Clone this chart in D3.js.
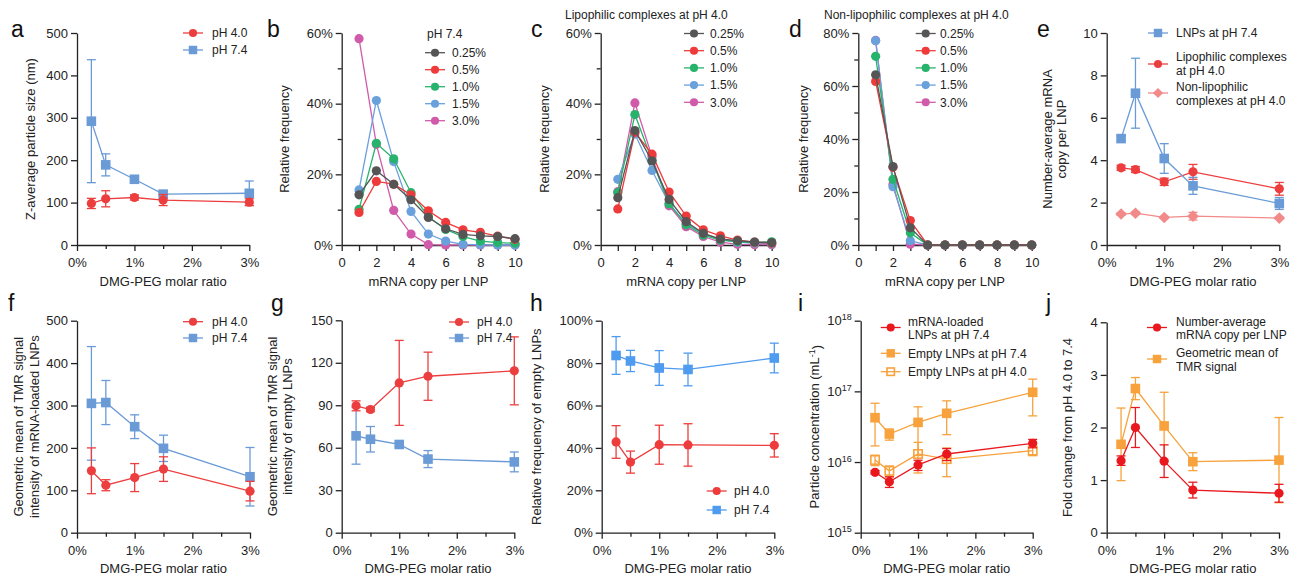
<!DOCTYPE html>
<html>
<head>
<meta charset="utf-8">
<script src="https://cdn.jsdelivr.net/npm/d3@7"></script>
<style>
body { margin: 0; background: #fff; }
svg { display: block; font-family: "Liberation Sans", Arial, Helvetica, sans-serif; }
.axis path, .axis line { stroke: #222; stroke-width: 1.3px; }
.axis text { font-size: 13px; fill: #222; font-family: "Liberation Sans", Arial, sans-serif; }
.ttl { font-size: 13px; fill: #222; }
.leg { font-size: 12px; fill: #222; }
.lab { font-size: 23px; fill: #111; }
</style>
</head>
<body>
<svg id="fig" width="1295" height="577"></svg>
<script>
/* DMG-PEG figure, panels a-j */
const pegRatio = [0.25, 0.5, 1, 1.5, 3];
const mrnaCopy = [1, 2, 3, 4, 5, 6, 7, 8, 9, 10];
const pegLevels = ['0.25%', '0.5%', '1.0%', '1.5%', '3.0%'];

// a - z-average size (nm)
const sizePH40 = [98, 109, 112, 106, 101];
const sizePH40Sd = [12, 19, 6, 13, 8];
const sizePH74 = [292, 189, 155, 120, 122];
const sizePH74Sd = [145, 26, 7, 4, 29];

// b-d - relative frequency (%) per mRNA copy, one row per PEG level
const distPH74 = [
    [14.2, 21.0, 17.2, 12.8, 7.8, 4.6, 3.0, 2.6, 2.4, 1.8],
    [9.2, 18.0, 17.2, 14.2, 9.7, 6.4, 4.3, 3.6, 2.5, 1.6],
    [10.1, 28.8, 24.4, 14.8, 8.0, 4.4, 2.4, 1.1, 0.7, 0.5],
    [15.6, 40.9, 23.6, 9.5, 3.1, 1.1, 0.2, 0.1, 0, 0],
    [58.4, 28.5, 9.8, 3.1, 0.1, 0, 0, 0, 0, 0],
];
const distLipo = [
    [13.4, 32.4, 23.8, 12.9, 6.6, 3.3, 1.7, 1.2, 0.85, 0.7],
    [10.2, 31.9, 25.7, 15.0, 8.2, 4.3, 2.6, 1.4, 0.8, 0.5],
    [14.8, 36.9, 24.0, 11.6, 5.7, 2.8, 1.4, 0.9, 0.7, 0.9],
    [18.6, 31.4, 21.1, 11.8, 6.0, 3.3, 1.6, 0.8, 0.5, 0.3],
    [15.1, 40.2, 25.0, 11.1, 5.2, 2.4, 0.8, 0.2, 0.1, 0.1],
];
const distNonLipo = [
    [64.2, 29.6, 6.5, 0, 0, 0, 0, 0, 0, 0],
    [61.7, 29.3, 9.2, 0, 0, 0, 0, 0, 0, 0],
    [71.2, 24.8, 4.6, 0, 0, 0, 0, 0, 0, 0],
    [77.1, 22.0, 1.6, 0, 0, 0, 0, 0, 0, 0],
    [77.2, 22.9, 0.3, 0, 0, 0, 0, 0, 0, 0],
];

// e - number-average mRNA copy per LNP
const copyLNP74 = [5.02, 7.16, 4.08, 2.79, 1.96];
const copyLNP74Sd = [0.12, 1.65, 0.7, 0.4, 0.28];
const copyLipo40 = [3.64, 3.56, 2.98, 3.45, 2.65];
const copyLipo40Sd = [0.12, 0.14, 0.17, 0.35, 0.3];
const copyNonLipo40 = [1.46, 1.5, 1.3, 1.36, 1.27];
const copyNonLipo40Sd = [0.06, 0.06, 0.05, 0.18, 0.05];

// f - TMR of mRNA-loaded LNPs
const tmrLoaded40 = [146, 112, 130, 150, 98];
const tmrLoaded40Sd = [54, 13, 33, 29, 23];
const tmrLoaded74 = [305, 307, 250, 199, 132];
const tmrLoaded74Sd = [134, 52, 28, 31, 69];

// g - TMR of empty LNPs
const tmrEmpty40 = [89.6, 87, 105.8, 110.5, 114.3];
const tmrEmpty40Sd = [3.5, 1.5, 30, 17, 24];
const tmrEmpty74 = [68.4, 66, 62.3, 52, 50];
const tmrEmpty74Sd = [20, 9, 1.5, 6, 7];

// h - relative frequency of empty LNPs (%)
const emptyFreq40 = [42.8, 33.3, 41.5, 41.4, 41.2];
const emptyFreq40Sd = [7.7, 5.2, 9.2, 10, 5.5];
const emptyFreq74 = [83.6, 81, 77.7, 77, 82.4];
const emptyFreq74Sd = [8.9, 5, 8.2, 7.7, 7];

// i - particle concentration (mL^-1)
const concLoaded74 = [7.15e15, 5.27e15, 9.1e15, 1.30e16, 1.84e16];
const concLoaded74Sd = [0.4e15, 0.9e15, 1.5e15, 0.25e16, 0.25e16];
const concEmpty74 = [4.24e16, 2.49e16, 3.64e16, 4.89e16, 9.7e16];
const concEmpty74Sd = [2.55e16, 0.45e16, 2.4e16, 2.45e16, 5.2e16];
const concEmpty40 = [1.07e16, 7.5e15, 1.30e16, 1.10e16, 1.45e16];
const concEmpty40Sd = [0.18e16, 0.13e16, 0.6e16, 0.48e16, 0.22e16];

// j - fold change pH 4.0 -> 7.4
const foldCopy = [1.37, 2.0, 1.36, 0.81, 0.75];
const foldCopySd = [0.09, 0.38, 0.31, 0.15, 0.17];
const foldTmr = [1.68, 2.74, 2.03, 1.35, 1.38];
const foldTmrSd = [0.69, 0.21, 0.64, 0.17, 0.81];

const RED = '#EC3E3E', BLUE = '#6A9BD6', PINK_D = '#F28A8A';
const distColors = ['#555555', '#EE3A3A', '#27B36B', '#6AA0DC', '#D05BAA'];
const H_RED = '#EE3B3B', H_BLUE = '#4F9BEF';
const I_RED = '#E8181E', ORANGE = '#F7A23C';

const svg = d3.select('#fig');

function addMarker(sel, shape, color, k = 1) {
    if (shape === 'circle') sel.append('circle').attr('r', 4.6 * k).attr('fill', color);
    else if (shape === 'square') sel.append('rect').attr('x', -4.8 * k).attr('y', -4.8 * k)
        .attr('width', 9.6 * k).attr('height', 9.6 * k).attr('fill', color);
    else if (shape === 'open') sel.append('rect').attr('x', -4.2 * k).attr('y', -4.2 * k)
        .attr('width', 8.4 * k).attr('height', 8.4 * k).attr('fill', 'none')
        .attr('stroke', color).attr('stroke-width', 1.6);
    else if (shape === 'diamond') sel.append('path')
        .attr('d', `M0,${-5.8 * k}L${5.8 * k},0L0,${5.8 * k}L${-5.8 * k},0Z`).attr('fill', color);
}

function makePanel(o) {
    const g = svg.append('g');
    const x = d3.scaleLinear().domain(o.xDomain).range([o.x0, o.x1]);
    const y = (o.log ? d3.scaleLog() : d3.scaleLinear()).domain(o.yDomain).range([o.yBot, o.yTop]);
    g.append('g').attr('class', 'axis').attr('transform', `translate(0,${o.yBot})`)
        .call(d3.axisBottom(x).tickValues(o.xTicks).tickSize(6).tickSizeOuter(0).tickPadding(7).tickFormat(o.xFormat));
    if (o.xMinor) g.append('g').attr('class', 'axis').attr('transform', `translate(0,${o.yBot})`)
        .call(d3.axisBottom(x).tickValues(o.xMinor).tickSize(4).tickSizeOuter(0).tickFormat(''))
        .select('.domain').remove();
    const ya = g.append('g').attr('class', 'axis').attr('transform', `translate(${o.x0},0)`)
        .call(d3.axisLeft(y).tickValues(o.yTicks).tickSize(6).tickSizeOuter(0).tickPadding(3).tickFormat(o.yFormat || (d => d)));
    if (o.yMinor) g.append('g').attr('class', 'axis').attr('transform', `translate(${o.x0},0)`)
        .call(d3.axisLeft(y).tickValues(o.yMinor).tickSize(4).tickSizeOuter(0).tickFormat(''))
        .select('.domain').remove();
    if (o.log) {
        ya.selectAll('.tick text').text(null).each(function (d) {
            const t = d3.select(this);
            t.append('tspan').text('10');
            t.append('tspan').attr('dy', '-0.55em').attr('font-size', '9px').text(Math.round(Math.log10(d)));
        });
    }
    // axis titles
    g.append('text').attr('class', 'ttl').attr('text-anchor', 'middle')
        .attr('x', (o.x0 + o.x1) / 2).attr('y', o.yBot + 40.5).text(o.xTitle);
    const cy = (o.yTop + o.yBot) / 2;
    o.yTitle.forEach((line, k) => {
        const t = g.append('text').attr('class', 'ttl').attr('text-anchor', 'middle')
            .attr('transform', `translate(${o.x0 + o.yTitleDx[k]},${cy}) rotate(-90)`).attr('dy', '0.35em');
        if (Array.isArray(line)) {
            t.append('tspan').text(line[0]);
            t.append('tspan').attr('dy', '-0.45em').attr('font-size', '9px').text(line[1]);
            t.append('tspan').attr('dy', '0.45em').text(line[2]);
        } else t.text(line);
    });
    g.append('text').attr('class', 'lab').attr('x', o.lab[1]).attr('y', o.lab[2]).text(o.lab[0]);
    if (o.head) g.append('text').attr('class', 'leg').attr('x', o.head[1]).attr('y', o.head[2] + 4.3).text(o.head[0]);
    return { g, x, y };
}

function drawSeries(p, xs, ys, sd, color, shape, lw = 1.3) {
    const s = p.g.append('g');
    if (sd) {
        xs.forEach((xv, i) => {
            const cx = p.x(xv), lo = p.y(ys[i] - sd[i]), hi = p.y(ys[i] + sd[i]);
            s.append('line').attr('x1', cx).attr('x2', cx).attr('y1', lo).attr('y2', hi)
                .attr('stroke', color).attr('stroke-width', 1.3);
            [lo, hi].forEach(v => s.append('line').attr('x1', cx - 4.5).attr('x2', cx + 4.5)
                .attr('y1', v).attr('y2', v).attr('stroke', color).attr('stroke-width', 1.3));
        });
    }
    s.append('path').datum(ys)
        .attr('d', d3.line().x((d, i) => p.x(xs[i])).y(d => p.y(d)))
        .attr('fill', 'none').attr('stroke', color).attr('stroke-width', lw);
    s.selectAll('g.pt').data(ys).join('g').attr('class', 'pt')
        .attr('transform', (d, i) => `translate(${p.x(xs[i])},${p.y(d)})`)
        .each(function () { addMarker(d3.select(this), shape, color); });
}

function legend(p, items) {
    items.forEach(it => {
        const gg = p.g.append('g');
        gg.append('line').attr('x1', it.mx - 10).attr('x2', it.mx + 10).attr('y1', it.my).attr('y2', it.my)
            .attr('stroke', it.color).attr('stroke-width', 1.3);
        addMarker(gg.append('g').attr('transform', `translate(${it.mx},${it.my})`), it.shape, it.color, 0.88);
        it.text.forEach((t, k) => gg.append('text').attr('class', 'leg')
            .attr('x', it.tx).attr('y', it.ty[k] + 4.3).text(t));
    });
}

const pct = d => d + '%';
const pegAxis = { xDomain: [0, 3], xTicks: [0, 1, 2, 3], xMinor: [0.5, 1.5, 2.5], xFormat: pct, xTitle: 'DMG-PEG molar ratio' };
const copyAxis = { xDomain: [0, 10], xTicks: d3.range(0, 11), xFormat: d => (d % 2 === 0 ? d : ''), xTitle: 'mRNA copy per LNP' };

// ---- a
const pa = makePanel({ ...pegAxis, x0: 77, x1: 249.3, yTop: 33, yBot: 245, yDomain: [0, 500], yTicks: d3.range(0, 501, 100),
    yTitle: ['Z-average particle size (nm)'], yTitleDx: [-47], lab: ['a', 11, 37] });
drawSeries(pa, pegRatio, sizePH74, sizePH74Sd, BLUE, 'square');
drawSeries(pa, pegRatio, sizePH40, sizePH40Sd, RED, 'circle');
legend(pa, [
    { mx: 193, my: 33, tx: 212, ty: [33], color: RED, shape: 'circle', text: ['pH 4.0'] },
    { mx: 193, my: 50, tx: 212, ty: [50], color: BLUE, shape: 'square', text: ['pH 7.4'] },
]);

// ---- b, c, d
function distPanel(data, o, leg) {
    const p = makePanel({ ...copyAxis, ...o });
    for (let k = data.length - 1; k >= 0; k--) drawSeries(p, mrnaCopy, data[k], null, distColors[k], 'circle');
    legend(p, pegLevels.map((t, k) => ({ mx: leg.mx, my: leg.y0 + k * leg.dy, tx: leg.tx, ty: [leg.y0 + k * leg.dy],
        color: distColors[k], shape: 'circle', text: [t] })));
}
distPanel(distPH74, { x0: 341.7, x1: 515, yTop: 33, yBot: 245, yDomain: [0, 60], yTicks: [0, 20, 40, 60], yMinor: [10, 30, 50],
    yFormat: pct, yTitle: ['Relative frequency'], yTitleDx: [-57], lab: ['b', 267, 37], head: ['pH 7.4', 427, 34] },
    { mx: 435, tx: 452, y0: 52.7, dy: 17 });
distPanel(distLipo, { x0: 600.7, x1: 771.7, yTop: 33, yBot: 245, yDomain: [0, 60], yTicks: [0, 20, 40, 60], yMinor: [10, 30, 50],
    yFormat: pct, yTitle: ['Relative frequency'], yTitleDx: [-56], lab: ['c', 531, 37], head: ['Lipophilic complexes at pH 4.0', 565, 15] },
    { mx: 694, tx: 710, y0: 33.5, dy: 17.2 });
distPanel(distNonLipo, { x0: 858.3, x1: 1031.7, yTop: 33, yBot: 245, yDomain: [0, 80], yTicks: [0, 20, 40, 60, 80], yMinor: [10, 30, 50, 70],
    yFormat: pct, yTitle: ['Relative frequency'], yTitleDx: [-55], lab: ['d', 789, 37], head: ['Non-lipophilic complexes at pH 4.0', 824, 15] },
    { mx: 925.7, tx: 940, y0: 33.5, dy: 17.2 });

// ---- e
const pe = makePanel({ ...pegAxis, x0: 1106.7, x1: 1279.3, yTop: 33, yBot: 245, yDomain: [0, 10], yTicks: [0, 2, 4, 6, 8, 10],
    yTitle: ['Number-average mRNA', 'copy per LNP'], yTitleDx: [-59, -45], lab: ['e', 1037, 37] });
drawSeries(pe, pegRatio, copyNonLipo40, copyNonLipo40Sd, PINK_D, 'diamond');
drawSeries(pe, pegRatio, copyLipo40, copyLipo40Sd, RED, 'circle');
drawSeries(pe, pegRatio, copyLNP74, copyLNP74Sd, BLUE, 'square');
legend(pe, [
    { mx: 1158, my: 33, tx: 1176, ty: [33], color: BLUE, shape: 'square', text: ['LNPs at pH 7.4'] },
    { mx: 1158, my: 64, tx: 1176, ty: [57, 71], color: RED, shape: 'circle', text: ['Lipophilic complexes', 'at pH 4.0'] },
    { mx: 1158, my: 93, tx: 1176, ty: [87, 100.5], color: PINK_D, shape: 'diamond', text: ['Non-lipophilic', 'complexes at pH 4.0'] },
]);

// ---- f
const pf = makePanel({ ...pegAxis, x0: 77, x1: 250, yTop: 320.7, yBot: 532.7, yDomain: [0, 500], yTicks: d3.range(0, 501, 100),
    yTitle: ['Geometric mean of TMR signal', 'intensity of mRNA-loaded LNPs'], yTitleDx: [-59, -43], lab: ['f', 8, 311] });
drawSeries(pf, pegRatio, tmrLoaded74, tmrLoaded74Sd, BLUE, 'square');
drawSeries(pf, pegRatio, tmrLoaded40, tmrLoaded40Sd, RED, 'circle');
legend(pf, [
    { mx: 193, my: 321.7, tx: 212, ty: [321.7], color: RED, shape: 'circle', text: ['pH 4.0'] },
    { mx: 193, my: 338, tx: 212, ty: [338], color: BLUE, shape: 'square', text: ['pH 7.4'] },
]);

// ---- g
const pg = makePanel({ ...pegAxis, x0: 341.7, x1: 514.3, yTop: 320.3, yBot: 532.7, yDomain: [0, 150], yTicks: d3.range(0, 151, 30),
    yTitle: ['Geometric mean of TMR signal', 'intensity of empty LNPs'], yTitleDx: [-69, -54], lab: ['g', 271, 311] });
drawSeries(pg, pegRatio, tmrEmpty74, tmrEmpty74Sd, BLUE, 'square');
drawSeries(pg, pegRatio, tmrEmpty40, tmrEmpty40Sd, RED, 'circle');
legend(pg, [
    { mx: 459, my: 322, tx: 477, ty: [322], color: RED, shape: 'circle', text: ['pH 4.0'] },
    { mx: 459, my: 338, tx: 477, ty: [338], color: BLUE, shape: 'square', text: ['pH 7.4'] },
]);

// ---- h
const ph = makePanel({ ...pegAxis, x0: 601.7, x1: 774.3, yTop: 320.7, yBot: 532.7, yDomain: [0, 100], yTicks: d3.range(0, 101, 20),
    yFormat: pct, yTitle: ['Relative frequency of empty LNPs'], yTitleDx: [-65], lab: ['h', 530, 311] });
drawSeries(ph, pegRatio, emptyFreq74, emptyFreq74Sd, H_BLUE, 'square');
drawSeries(ph, pegRatio, emptyFreq40, emptyFreq40Sd, H_RED, 'circle');
legend(ph, [
    { mx: 716.7, my: 491, tx: 734, ty: [491], color: H_RED, shape: 'circle', text: ['pH 4.0'] },
    { mx: 716.7, my: 510, tx: 734, ty: [510], color: H_BLUE, shape: 'square', text: ['pH 7.4'] },
]);

// ---- i
const pi = makePanel({ ...pegAxis, x0: 860.7, x1: 1032.7, yTop: 320.7, yBot: 532.7, log: true, yDomain: [1e15, 1e18],
    yTicks: [1e15, 1e16, 1e17, 1e18], yTitle: [['Particle concentration (mL', '-1', ')']], yTitleDx: [-46], lab: ['i', 798, 311] });
drawSeries(pi, pegRatio, concEmpty40, concEmpty40Sd, ORANGE, 'open');
drawSeries(pi, pegRatio, concEmpty74, concEmpty74Sd, ORANGE, 'square');
drawSeries(pi, pegRatio, concLoaded74, concLoaded74Sd, I_RED, 'circle');
legend(pi, [
    { mx: 890.7, my: 327.5, tx: 908, ty: [321.7, 335], color: I_RED, shape: 'circle', text: ['mRNA-loaded', 'LNPs at pH 7.4'] },
    { mx: 890.7, my: 353.3, tx: 908, ty: [353.3], color: ORANGE, shape: 'square', text: ['Empty LNPs at pH 7.4'] },
    { mx: 890.7, my: 371.7, tx: 908, ty: [371.7], color: ORANGE, shape: 'open', text: ['Empty LNPs at pH 4.0'] },
]);

// ---- j
const pj = makePanel({ ...pegAxis, x0: 1106.7, x1: 1279, yTop: 322.3, yBot: 532.7, yDomain: [0, 4], yTicks: [0, 1, 2, 3, 4],
    yTitle: ['Fold change from pH 4.0 to 7.4'], yTitleDx: [-39], lab: ['j', 1046, 311] });
drawSeries(pj, pegRatio, foldTmr, foldTmrSd, ORANGE, 'square');
drawSeries(pj, pegRatio, foldCopy, foldCopySd, I_RED, 'circle');
legend(pj, [
    { mx: 1157, my: 327.5, tx: 1176, ty: [321.7, 334.3], color: I_RED, shape: 'circle', text: ['Number-average', 'mRNA copy per LNP'] },
    { mx: 1157, my: 359, tx: 1176, ty: [353, 366.7], color: ORANGE, shape: 'square', text: ['Geometric mean of', 'TMR signal'] },
]);
</script>
</body>
</html>
